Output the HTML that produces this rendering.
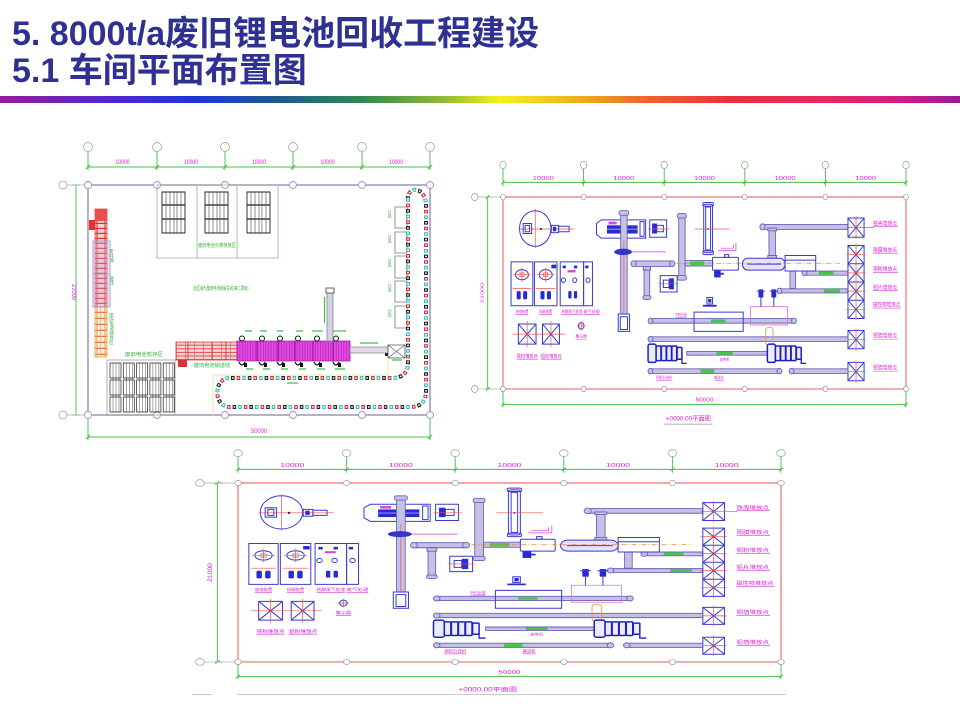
<!DOCTYPE html>
<html><head><meta charset="utf-8">
<style>
html,body{margin:0;padding:0;background:#fff}
body{width:960px;height:720px;position:relative;overflow:hidden}
.t{position:absolute;left:12px;font-family:"Liberation Sans","Noto Sans CJK SC",sans-serif;font-weight:bold;font-size:34px;line-height:37px;color:#2e3192;white-space:nowrap}
.bar{position:absolute;left:0;top:96px;width:960px;height:7px;background:linear-gradient(90deg,#9a1aa0 0%,#5a24c8 10%,#1f35d8 20%,#1d5a90 29%,#2e8b4e 38%,#9cc030 47%,#f5f020 52%,#f0b020 60%,#ec6a28 67%,#e8303c 76%,#e42a60 86%,#d8207e 92%,#a0189a 100%)}
svg{position:absolute;left:0;top:0}
.d *{vector-effect:non-scaling-stroke}
.g{stroke:#40c040;stroke-width:.9;fill:none}
.m{fill:#e020e0;font-family:"Liberation Sans","Noto Sans CJK SC",sans-serif}
.gt{fill:#30b030;font-family:"Liberation Sans","Noto Sans CJK SC",sans-serif}
.cv{fill:#c6bfe8;stroke:#6a64b0;stroke-width:.9}
.b{fill:none;stroke:#3a3ad0;stroke-width:1}
.r{stroke:#f05050;stroke-width:.7;fill:none}
.w{fill:none;stroke:#f07070;stroke-width:1.2}
.ul{stroke:#d040d0;stroke-width:.6;fill:none}
.mc rect{fill:#ececff;stroke:#2020c0;stroke-width:1.5}
.mc path{fill:none;stroke:#2020c0;stroke-width:1.3}
</style></head><body>
<div class="t" style="top:16px">5. 8000t/a废旧锂电池回收工程建设</div>
<div class="t" style="top:53px">5.1 车间平面布置图</div>
<div class="bar"></div>

<svg width="960" height="720" viewBox="0 0 960 720" xmlns="http://www.w3.org/2000/svg">
<defs>
<pattern id="lad" x="95" y="209" width="12" height="5" patternUnits="userSpaceOnUse"><rect width="12" height="5" fill="#f6d0d0"/><rect y="3.8" width="12" height="1.2" fill="#d83030"/><rect x="1.5" width="1" height="5" fill="#d83030"/><rect x="9.5" width="1" height="5" fill="#d83030"/></pattern>
<pattern id="lad2" x="95" y="307" width="12" height="6" patternUnits="userSpaceOnUse"><rect width="12" height="6" fill="#fbeede"/><rect y="4.8" width="12" height="1" fill="#e05030"/><rect x="1.5" width="1" height="6" fill="#e0a040"/><rect x="9.5" width="1" height="6" fill="#e0a040"/><rect x="5.5" width=".6" height="6" fill="#e0a040"/></pattern>
<pattern id="hl" x="176" y="342" width="9" height="3.6" patternUnits="userSpaceOnUse"><rect width="9" height="3.6" fill="#f8d4d4"/><rect y="2.8" width="9" height=".8" fill="#d83030"/><rect width=".7" height="3.6" fill="#e06060"/></pattern>
<pattern id="st" x="237" y="341" width="2.6" height="4" patternUnits="userSpaceOnUse"><rect width="2.6" height="4" fill="#e24ae2"/><rect width=".6" height="4" fill="#b020b0"/></pattern>
</defs>

<!-- ================= LEFT DRAWING ================= -->
<g class="d">
<g fill="#fff" stroke="#999" stroke-width=".7">
<circle cx="88" cy="147" r="4.5"/><circle cx="157" cy="147" r="4.5"/><circle cx="225" cy="147" r="4.5"/><circle cx="293" cy="147" r="4.5"/><circle cx="362" cy="147" r="4.5"/><circle cx="430" cy="147" r="4.5"/>
<circle cx="63" cy="185" r="4"/><circle cx="63" cy="415" r="4"/>
</g>
<path class="g" d="M88,152V170M157,152V170M225,152V170M293,152V170M362,152V170M430,152V170 M88,167H430 M86,169L90,165M155,169L159,165M223,169L227,165M291,169L295,165M360,169L364,165M428,169L432,165 M76,185V415 M72,185H80 M72,415H80 M88,418V440 M430,418V440 M88,437H430 M86,439L90,435 M428,439L432,435"/>
<g class="m" font-size="6" text-anchor="middle">
<text x="122.5" y="164" textLength="14" lengthAdjust="spacingAndGlyphs">10000</text>
<text x="191" y="164" textLength="14" lengthAdjust="spacingAndGlyphs">10000</text>
<text x="259" y="164" textLength="14" lengthAdjust="spacingAndGlyphs">10000</text>
<text x="327.5" y="164" textLength="14" lengthAdjust="spacingAndGlyphs">10000</text>
<text x="396" y="164" textLength="14" lengthAdjust="spacingAndGlyphs">10000</text>
<text x="259" y="433" textLength="16" lengthAdjust="spacingAndGlyphs">50000</text>
<text transform="translate(72,292) rotate(90)" textLength="16" lengthAdjust="spacingAndGlyphs">21000</text>
</g>
<path d="M67,185H88 M67,415H88" stroke="#aaa" stroke-width=".7"/>
<rect x="88" y="185" width="342" height="230" fill="none" stroke="#9c96bc" stroke-width="1.5"/>
<g fill="#fff" stroke="#b888cc" stroke-width=".9">
<circle cx="88" cy="185" r="3.5"/><circle cx="157" cy="185" r="3.5"/><circle cx="225" cy="185" r="3.5"/><circle cx="293" cy="185" r="3.5"/><circle cx="362" cy="185" r="3.5"/><circle cx="430" cy="185" r="3.5"/>
<circle cx="88" cy="415" r="3.5"/><circle cx="157" cy="415" r="3.5"/><circle cx="225" cy="415" r="3.5"/><circle cx="293" cy="415" r="3.5"/><circle cx="362" cy="415" r="3.5"/><circle cx="430" cy="415" r="3.5"/>
</g>

<!-- top storage -->
<rect x="157" y="185" width="121" height="73" fill="none" stroke="#90b890" stroke-width=".8"/>
<path d="M197,185V258M237,185V258" stroke="#90b890" stroke-width=".8"/>
<g fill="none" stroke="#222">
<rect x="162" y="192" width="23" height="41" stroke-width=".9"/>
<path d="M166,192V233M170,192V233M174,192V233M177,192V233M181,192V233" stroke-width=".5"/>
<path d="M162,205H185M162,219H185" stroke-width="1.3"/>
<rect x="205" y="192" width="23" height="41" stroke-width=".9"/>
<path d="M209,192V233M213,192V233M217,192V233M220,192V233M224,192V233" stroke-width=".5"/>
<path d="M205,205H228M205,219H228" stroke-width="1.3"/>
<rect x="247" y="192" width="23" height="41" stroke-width=".9"/>
<path d="M251,192V233M255,192V233M259,192V233M262,192V233M266,192V233" stroke-width=".5"/>
<path d="M247,205H270M247,219H270" stroke-width="1.3"/>
</g>
<g class="gt" font-size="5" text-anchor="middle">
<text x="217" y="247" textLength="38" lengthAdjust="spacingAndGlyphs">废旧电池分类存放区</text>
<text x="221" y="290" textLength="55" lengthAdjust="spacingAndGlyphs">此区域为废旧电池拆解车间(第二层级)</text>
<text x="144" y="356" textLength="38" lengthAdjust="spacingAndGlyphs">废旧电池暂存区</text>
<text x="212" y="367" textLength="36" lengthAdjust="spacingAndGlyphs">废旧电池输送线</text>
</g>
<g class="gt" font-size="4.5">
<text x="112" y="249" writing-mode="tb">废料输</text>
<text x="112" y="276" writing-mode="tb">送线</text>
<text x="112" y="313" writing-mode="tb">废旧电池储存区</text>
</g>

<!-- left conveyor -->
<rect x="95" y="209" width="12" height="98" fill="url(#lad)" stroke="#e04040" stroke-width=".8"/>
<rect x="95" y="209" width="12" height="12" fill="#e85050"/>
<rect x="89" y="220" width="6" height="10" fill="#e03030"/>
<rect x="95" y="307" width="12" height="50" fill="url(#lad2)" stroke="#e0a040" stroke-width=".8"/>
<rect x="93" y="241" width="17" height="66" fill="#c8b8e0" fill-opacity=".35" stroke="#a090c8" stroke-width=".8"/>
<path d="M93,274H110" stroke="#a090c8" stroke-width=".6"/>

<!-- bottom-left storage -->
<rect x="107" y="360" width="68" height="55" fill="none" stroke="#999" stroke-width=".8"/>
<g fill="none" stroke="#222" stroke-width=".7">
<rect x="110" y="363" width="11" height="15"/><rect x="123.3" y="363" width="11" height="15"/><rect x="136.6" y="363" width="11" height="15"/><rect x="149.9" y="363" width="11" height="15"/><rect x="163.2" y="363" width="11" height="15"/>
<rect x="110" y="380" width="11" height="15"/><rect x="123.3" y="380" width="11" height="15"/><rect x="136.6" y="380" width="11" height="15"/><rect x="149.9" y="380" width="11" height="15"/><rect x="163.2" y="380" width="11" height="15"/>
<rect x="110" y="397" width="11" height="15"/><rect x="123.3" y="397" width="11" height="15"/><rect x="136.6" y="397" width="11" height="15"/><rect x="149.9" y="397" width="11" height="15"/><rect x="163.2" y="397" width="11" height="15"/>
<path d="M113,363V412M116,363V412M119,363V412M126.3,363V412M129.3,363V412M132.3,363V412M139.6,363V412M142.6,363V412M145.6,363V412M152.9,363V412M155.9,363V412M158.9,363V412M166.2,363V412M169.2,363V412M172.2,363V412" stroke-width=".4"/>
</g>

<!-- process line -->
<rect x="176" y="342" width="61" height="18" fill="url(#hl)" stroke="#d83030" stroke-width=".8"/>
<path d="M188,342V360M212,342V360M226,342V360" stroke="#c02020" stroke-width=".7"/>
<rect x="178" y="360" width="9" height="7" fill="#e03030"/>
<rect x="237" y="341" width="113" height="20" fill="url(#st)" stroke="#a020a0" stroke-width=".8"/>
<path d="M257,341V361M278,341V361M295,341V361M313,341V361M333,341V361" stroke="#801080" stroke-width=".9"/>
<g fill="none" stroke="#111" stroke-width="1">
<circle cx="242" cy="338.5" r="2.5"/><circle cx="262" cy="338.5" r="2.5"/><circle cx="280" cy="338.5" r="2.5"/><circle cx="298" cy="338.5" r="2.5"/><circle cx="317" cy="338.5" r="2.5"/><circle cx="336" cy="338.5" r="2.5"/>
<path d="M239,362q3,6 6,0M259,362q3,6 6,0M277,362q3,6 6,0M295,362q3,6 6,0M314,362q3,6 6,0M333,362q3,6 6,0" stroke-width="1.3"/>
</g>
<g fill="#111"><rect x="244" y="363" width="3" height="4"/><rect x="264" y="363" width="3" height="4"/><rect x="282" y="363" width="3" height="4"/><rect x="300" y="363" width="3" height="4"/><rect x="319" y="363" width="3" height="4"/><rect x="338" y="363" width="3" height="4"/></g>
<path d="M245,331H252M260,331H267M277,331H283M296,331H303M312,331H323M333,331H346 M246,369H253M263,369H270M281,369H288M299,369H306M317,369H325M335,369H345 M287,383H298 M360,343H378 M392,360H402" stroke="#40c040" stroke-width="1.3"/>
<rect x="327" y="291" width="6" height="50" fill="#d8d0e8" stroke="#888" stroke-width=".8"/>
<rect x="326" y="288" width="8" height="5" fill="#fff" stroke="#333" stroke-width=".8"/>
<path d="M324.5,297V323" stroke="#40c040" stroke-width="1.2"/>
<rect x="350" y="347" width="38" height="6" fill="#e0d8ec" stroke="#888" stroke-width=".8"/>
<rect x="385" y="353" width="3" height="3" fill="#222"/>
<rect x="388" y="345" width="17" height="13" fill="#fff" stroke="#555" stroke-width=".8"/>
<path d="M388,345L405,358M405,345L388,358" stroke="#555" stroke-width=".6"/>
<path d="M213,417V375H388V358" fill="none" stroke="#e8e090" stroke-width=".8"/>

<!-- right boxes -->
<g fill="#fff" stroke="#777" stroke-width=".8">
<rect x="395" y="207" width="12" height="21"/><rect x="395" y="232" width="12" height="21"/><rect x="395" y="256" width="12" height="22"/><rect x="395" y="281" width="12" height="21"/><rect x="395" y="306" width="12" height="22"/>
</g>
<g class="gt" font-size="4"><text x="390" y="210" writing-mode="tb">分选</text><text x="390" y="235" writing-mode="tb">分选</text><text x="390" y="259" writing-mode="tb">分选</text><text x="390" y="284" writing-mode="tb">分选</text><text x="390" y="309" writing-mode="tb">分选</text></g>

<!-- chain loop -->
<g fill="none" stroke-width="4">
<path d="M408,198V362Q408,378 392,378H230C213,378 213,407 230,407H410Q426,407 426,391V206C426,186 408,186 408,198Z" stroke="#3cc0c0" stroke-dasharray="3.6 13.2"/>
<path d="M408,198V362Q408,378 392,378H230C213,378 213,407 230,407H410Q426,407 426,391V206C426,186 408,186 408,198Z" stroke="#d83040" stroke-dasharray="3.6 13.2" stroke-dashoffset="-5.6"/>
<path d="M408,198V362Q408,378 392,378H230C213,378 213,407 230,407H410Q426,407 426,391V206C426,186 408,186 408,198Z" stroke="#222" stroke-dasharray="3.6 13.2" stroke-dashoffset="-11.2"/>
<path d="M408,198V362Q408,378 392,378H230C213,378 213,407 230,407H410Q426,407 426,391V206C426,186 408,186 408,198Z" stroke="#fff" stroke-width="1.6" stroke-dasharray="1.6 4" stroke-dashoffset="-1"/>
</g>
</g>

<!-- ================= RIGHT-TOP DRAWING ================= -->
<g class="d" transform="translate(503,197) scale(0.806,0.914)">
<g fill="#fff" stroke="#999" stroke-width=".7">
<circle cx="0" cy="-35" r="4"/><circle cx="100" cy="-35" r="4"/><circle cx="200" cy="-35" r="4"/><circle cx="300" cy="-35" r="4"/><circle cx="400" cy="-35" r="4"/><circle cx="500" cy="-35" r="4"/>
<circle cx="-35" cy="0" r="4"/><circle cx="-35" cy="210" r="4"/>
</g>
<path class="g" d="M0,-31V-12M100,-31V-12M200,-31V-12M300,-31V-12M400,-31V-12M500,-31V-12 M0,-16H500 M-2,-14L2,-18M98,-14L102,-18M198,-14L202,-18M298,-14L302,-18M398,-14L402,-18M498,-14L502,-18 M-19,0V210 M-22,0H-14 M-22,210H-14 M-21,2L-17,-2 M-21,212L-17,208 M0,212V230 M500,212V230 M0,227H500 M-2,229L2,225 M498,229L502,225"/>
<g class="m" font-size="6" text-anchor="middle">
<text x="50" y="-18.5" textLength="26" lengthAdjust="spacingAndGlyphs">10000</text>
<text x="150" y="-18.5" textLength="26" lengthAdjust="spacingAndGlyphs">10000</text>
<text x="250" y="-18.5" textLength="26" lengthAdjust="spacingAndGlyphs">10000</text>
<text x="350" y="-18.5" textLength="26" lengthAdjust="spacingAndGlyphs">10000</text>
<text x="450" y="-18.5" textLength="26" lengthAdjust="spacingAndGlyphs">10000</text>
<text x="250" y="224" textLength="22" lengthAdjust="spacingAndGlyphs">50000</text>
<text transform="translate(-24,105) rotate(-90)" textLength="22" lengthAdjust="spacingAndGlyphs">21000</text>
<text x="230" y="244.5" font-size="7" textLength="56" lengthAdjust="spacingAndGlyphs">+0000.00平面图</text>
</g>
<path d="M200,248.5H260" stroke="#999" stroke-width=".8"/>
<path d="M-31,0H0 M-31,210H0" stroke="#aaa" stroke-width=".7"/>
<rect class="w" x="0" y="0" width="500" height="210"/>
<g fill="#fff" stroke="#888" stroke-width=".6">
<circle cx="0" cy="0" r="3"/><circle cx="100" cy="0" r="3"/><circle cx="200" cy="0" r="3"/><circle cx="300" cy="0" r="3"/><circle cx="400" cy="0" r="3"/><circle cx="500" cy="0" r="3"/>
<circle cx="0" cy="210" r="3"/><circle cx="100" cy="210" r="3"/><circle cx="200" cy="210" r="3"/><circle cx="300" cy="210" r="3"/><circle cx="400" cy="210" r="3"/><circle cx="500" cy="210" r="3"/>
</g>
<!-- rotary -->
<circle cx="40" cy="34.5" r="19.5" class="b"/>
<path d="M40,13V56 M19,35H88" class="r"/>
<rect x="25" y="29" width="10.5" height="11" class="b"/><rect x="27.5" y="31" width="5.5" height="7" class="b"/>
<circle cx="47" cy="35" r="1.2" fill="#222"/>
<rect x="60" y="31" width="9" height="8" class="b"/><rect x="62" y="32.5" width="4" height="5" fill="#2a2ad0"/><rect x="69" y="32" width="13" height="6" class="b"/>
<!-- crusher -->
<path d="M116,29L122,25H177V45H122L116,41Z" class="b" style="fill:#fff"/>
<rect x="129" y="31" width="38" height="9" fill="#2a2ad0"/><rect x="129" y="34.5" width="38" height="1.6" fill="#7a7aff"/>
<rect x="131" y="27" width="10" height="3" fill="#e040e0"/><rect x="170" y="27" width="5" height="16" class="b"/>
<!-- vertical conveyor -->
<rect x="146" y="19" width="8" height="112" class="cv"/>
<rect x="144" y="15" width="12" height="5" rx="2" class="cv"/>
<rect x="143" y="128" width="14" height="19" class="b" style="fill:#fff"/><rect x="145.5" y="131" width="9" height="14" class="b"/>
<line x1="150" y1="48" x2="150" y2="128" class="r"/>
<ellipse cx="149" cy="60" rx="11" ry="3.5" fill="#3434c8"/>
<line x1="160" y1="60" x2="202" y2="60" stroke="#d040d0" stroke-width=".8"/>
<!-- small box -->
<rect x="182" y="25" width="21" height="19" class="b"/><rect x="185" y="29" width="6" height="11" fill="#2a2ad0"/><rect x="191" y="31" width="8" height="7" class="b"/>
<line x1="180" y1="35" x2="206" y2="35" class="r"/>
<!-- T conveyor -->
<rect x="161" y="70" width="50" height="6" class="cv"/><circle cx="162" cy="73" r="3.2" class="cv"/><circle cx="210" cy="73" r="3.2" class="cv"/>
<rect x="175" y="76" width="7" height="35" class="cv"/><rect x="173.5" y="108" width="10" height="4" rx="2" class="cv"/><rect x="174" y="76" width="9" height="4" class="cv"/>
<rect x="195" y="86" width="21" height="18" class="b"/><rect x="206" y="89" width="6" height="12" fill="#2a2ad0"/><rect x="199" y="91" width="7" height="8" class="b"/>
<line x1="193" y1="95" x2="218" y2="95" class="r"/>
<rect x="218" y="21" width="8" height="67" class="cv"/><rect x="216.5" y="18" width="11" height="5" rx="2" class="cv"/><rect x="216.5" y="86" width="11" height="5" rx="2" class="cv"/>
<!-- frame -->
<rect x="249" y="8" width="11" height="53" rx="2" class="b"/><rect x="251.5" y="11" width="6" height="47" class="b"/>
<rect x="248" y="6" width="13" height="4" rx="1.5" class="b"/><rect x="248" y="59" width="13" height="4" rx="1.5" class="b"/>
<path d="M238,35H281" class="r"/><circle cx="254.5" cy="35" r="1" fill="#2a2ad0"/>
<path d="M267,58.5H289V50 M270,56H286V52" stroke="#d040d0" stroke-width=".7" fill="none"/>
<!-- conveyors right -->
<rect x="321" y="30" width="107" height="5.5" class="cv"/><circle cx="322" cy="32.7" r="3.3" class="cv"/>
<rect x="330" y="35.5" width="8" height="31" class="cv"/><rect x="328.5" y="34" width="11" height="3" class="cv"/><rect x="328.5" y="64" width="11" height="3" class="cv"/>
<rect x="374" y="81" width="54" height="4.5" class="cv"/><rect x="392" y="81.5" width="18" height="3.5" fill="#44c844"/><circle cx="374" cy="83.2" r="3" class="cv"/>
<rect x="356" y="81" width="7" height="19" class="cv"/>
<rect x="343" y="100.5" width="85" height="4.5" class="cv"/><rect x="398" y="101" width="20" height="3.5" fill="#44c844"/><circle cx="343" cy="102.7" r="3" class="cv"/>
<rect x="226" y="69.5" width="36" height="6" class="cv"/><rect x="232" y="70.5" width="18" height="4" fill="#44c844"/>
<rect x="260" y="66" width="32" height="14" rx="1" class="b" style="fill:#fff"/><rect x="275" y="63" width="5" height="3" class="b"/>
<rect x="262" y="80" width="8" height="8" fill="#2a2ad0"/><rect x="262" y="83" width="12" height="2" fill="#2a2ad0"/>
<rect x="297" y="67" width="53" height="13" rx="6.5" class="b" style="fill:#e6e2f7"/><line x1="303" y1="73.5" x2="345" y2="73.5" class="b"/>
<rect x="350" y="64" width="38" height="17" class="b" style="fill:#fff"/><line x1="350" y1="69" x2="388" y2="69" class="b"/>
<line x1="215" y1="72.5" x2="418" y2="72.5" stroke="#f08030" stroke-width=".7" stroke-dasharray="5 2 1 2"/>
<!-- X boxes -->
<rect x="428" y="23" width="20" height="21" class="b"/><path d="M428,23L448,44M448,23L428,44" class="b"/>
<path d="M438,21V46M426,33.5H460" class="r"/><circle cx="438" cy="33.5" r="1.3" fill="#e04040"/>
<rect x="428" y="53" width="20" height="80" class="b"/>
<path d="M428,73H448M428,93H448M428,113H448M428,53L448,73M448,53L428,73M428,73L448,93M448,73L428,93M428,93L448,113M448,93L428,113M428,113L448,133M448,113L428,133" class="b"/>
<path d="M438,51V135M426,63H450M426,83H450M426,103H450M426,123H450" class="r"/>
<g fill="#e04040"><circle cx="438" cy="63" r="1.3"/><circle cx="438" cy="83" r="1.3"/><circle cx="438" cy="103" r="1.3"/><circle cx="438" cy="123" r="1.3"/><circle cx="438" cy="156" r="1.3"/><circle cx="438" cy="191" r="1.3"/></g>
<rect x="428" y="146" width="20" height="20" class="b"/><path d="M428,146L448,166M448,146L428,166" class="b"/><path d="M438,144V168M426,156H450" class="r"/>
<rect x="428" y="181" width="20" height="20" class="b"/><path d="M428,181L448,201M448,181L428,201" class="b"/><path d="M438,179V203M426,191H450" class="r"/>
<g class="m" font-size="6">
<text x="459" y="31" textLength="30" lengthAdjust="spacingAndGlyphs">铁壳堆放点</text>
<text x="459" y="60" textLength="30" lengthAdjust="spacingAndGlyphs">隔膜堆放点</text>
<text x="459" y="81" textLength="30" lengthAdjust="spacingAndGlyphs">铜粉堆放点</text>
<text x="459" y="101" textLength="30" lengthAdjust="spacingAndGlyphs">铝片堆放点</text>
<text x="459" y="120" textLength="34" lengthAdjust="spacingAndGlyphs">磁性物堆放点</text>
<text x="459" y="154" textLength="30" lengthAdjust="spacingAndGlyphs">铜箔堆放点</text>
<text x="459" y="189" textLength="30" lengthAdjust="spacingAndGlyphs">铝箔堆放点</text>
</g>
<path class="ul" d="M459,32.5H490M459,61.5H490M459,82.5H490M459,102.5H490M459,121.5H494M459,155.5H490M459,190.5H490"/>
<!-- left panel -->
<rect x="10" y="71" width="27" height="48" class="b"/><rect x="39" y="71" width="28" height="48" class="b"/><rect x="71" y="71" width="29" height="48" class="b"/><rect x="100" y="71" width="11" height="48" class="b"/>
<ellipse cx="23.5" cy="85" rx="8" ry="5.5" class="b"/><ellipse cx="53" cy="85" rx="8" ry="5.5" class="b"/>
<path d="M13,85H34M23.5,77V93M42.5,85H63.5M53,77V93M12,100H35M41,100H65" class="r"/>
<rect x="21" y="83" width="5" height="4" class="r"/><rect x="50.5" y="83" width="5" height="4" class="r"/>
<g fill="#2a2ad0">
<rect x="17" y="103" width="5" height="9" rx="1.5"/><rect x="25" y="103" width="5" height="9" rx="1.5"/>
<rect x="46.5" y="103" width="5" height="9" rx="1.5"/><rect x="54.5" y="103" width="5" height="9" rx="1.5"/>
<rect x="60" y="74" width="6" height="4"/>
<rect x="74" y="75" width="4" height="3"/><rect x="88" y="75" width="4" height="3"/><rect x="102" y="75" width="4" height="3"/>
<rect x="81" y="103" width="4" height="8" rx="1"/><rect x="88" y="103" width="4" height="8" rx="1"/>
</g>
<g class="b"><circle cx="75" cy="91" r="2.5"/><circle cx="89" cy="91" r="2.5"/><circle cx="105.5" cy="91" r="2.5"/></g>
<rect x="80" y="80" width="10" height="2.5" fill="#e040e0"/>
<g class="m" font-size="4.5" text-anchor="middle">
<text x="23.5" y="127" textLength="16" lengthAdjust="spacingAndGlyphs">放电装置</text>
<text x="53" y="127" textLength="16" lengthAdjust="spacingAndGlyphs">拆解装置</text>
<text x="85.5" y="127" textLength="26" lengthAdjust="spacingAndGlyphs">热解尾气处理</text>
<text x="110" y="127" textLength="20" lengthAdjust="spacingAndGlyphs">尾气处理</text>
<text x="30" y="176" font-size="5.5" textLength="26" lengthAdjust="spacingAndGlyphs">铁粉堆放点</text>
<text x="60" y="176" font-size="5.5" textLength="26" lengthAdjust="spacingAndGlyphs">铝粉堆放点</text>
<text x="97" y="154" textLength="14" lengthAdjust="spacingAndGlyphs">集尘器</text>
<text x="221" y="130" textLength="14" lengthAdjust="spacingAndGlyphs">PE分选</text>
<text x="275" y="179" font-size="4" textLength="12" lengthAdjust="spacingAndGlyphs">皮带机</text>
<text x="200" y="199" textLength="20" lengthAdjust="spacingAndGlyphs">铜铝分选机</text>
<text x="268" y="199" textLength="12" lengthAdjust="spacingAndGlyphs">输送机</text>
</g>
<path class="ul" d="M15.5,128.5H31.5M45,128.5H61M72.5,128.5H98.5M100,128.5H120M17,177.5H43M47,177.5H73M90,155.5H104M214,131.5H228M190,200.5H210M262,200.5H274"/>
<rect x="19" y="139" width="22" height="22" class="b"/><path d="M19,139L41,161M41,139L19,161" class="b"/>
<rect x="49" y="139" width="21" height="22" class="b"/><path d="M49,139L70,161M70,139L49,161" class="b"/>
<path d="M12,150H77M30,136V164M59.5,136V164" class="r"/>
<circle cx="97" cy="141" r="3.5" class="b"/><path d="M92,141H102M97,136V146" class="r"/>
<!-- lower lines -->
<rect x="182" y="133" width="180" height="5" class="cv"/><circle cx="183" cy="135.5" r="3" class="cv"/><circle cx="361" cy="135.5" r="3" class="cv"/>
<rect x="237" y="126" width="61" height="21" class="b"/><rect x="258" y="134" width="18" height="3" fill="#44c844"/>
<rect x="307" y="120" width="46" height="20" fill="none" stroke="#e070c0" stroke-width=".8"/>
<rect x="253" y="110" width="7" height="7" class="b"/><rect x="254.5" y="111.5" width="4" height="4" fill="#2a2ad0"/><rect x="248" y="118" width="17" height="2" fill="#2a2ad0"/>
<rect x="317" y="101" width="6" height="9" rx="1" fill="#2a2ad0"/><rect x="333" y="101" width="6" height="9" rx="1" fill="#2a2ad0"/>
<path d="M315,103H325M331,103H341M320,110V120M336,110V120" class="b"/>
<rect x="182" y="153" width="246" height="5" class="cv"/><circle cx="183" cy="155.5" r="3" class="cv"/>
<rect x="326" y="143" width="9" height="19" rx="2.5" fill="none" stroke="#f09050" stroke-width=".9"/>
<rect x="228" y="169" width="100" height="4" class="cv"/><rect x="265" y="169.5" width="20" height="3" fill="#44c844"/>
<g class="mc">
<rect x="180" y="161" width="10" height="20" rx="2"/><rect x="190" y="163" width="6" height="16" rx="1"/><rect x="196.5" y="163" width="6" height="16" rx="1"/><rect x="203" y="163" width="6" height="16" rx="1"/><rect x="209.5" y="163" width="6" height="16" rx="1"/><rect x="216" y="164.5" width="6" height="13" rx="1"/><path d="M222,176V182H228"/>
<rect x="328" y="161" width="10" height="20" rx="2"/><rect x="338" y="163" width="6" height="16" rx="1"/><rect x="344.5" y="163" width="6" height="16" rx="1"/><rect x="351" y="163" width="6" height="16" rx="1"/><rect x="357.5" y="163" width="6" height="16" rx="1"/><rect x="364" y="164.5" width="6" height="13" rx="1"/><path d="M370,176V182H376"/>
</g>
<rect x="182" y="188" width="162" height="5" class="cv"/><circle cx="183" cy="190.5" r="3" class="cv"/><circle cx="343" cy="190.5" r="3" class="cv"/>
<rect x="245" y="188.5" width="17" height="4" fill="#44c844"/>
<rect x="357" y="188" width="71" height="5" class="cv"/><circle cx="358" cy="190.5" r="3" class="cv"/>
</g>

<!-- ================= BOTTOM DRAWING ================= -->
<g class="d" transform="translate(238,483) scale(1.086,0.852)">
<g fill="#fff" stroke="#999" stroke-width=".7">
<circle cx="0" cy="-35" r="4"/><circle cx="100" cy="-35" r="4"/><circle cx="200" cy="-35" r="4"/><circle cx="300" cy="-35" r="4"/><circle cx="400" cy="-35" r="4"/><circle cx="500" cy="-35" r="4"/>
<circle cx="-35" cy="0" r="4"/><circle cx="-35" cy="210" r="4"/>
</g>
<path class="g" d="M0,-31V-12M100,-31V-12M200,-31V-12M300,-31V-12M400,-31V-12M500,-31V-12 M0,-16H500 M-2,-14L2,-18M98,-14L102,-18M198,-14L202,-18M298,-14L302,-18M398,-14L402,-18M498,-14L502,-18 M-19,0V210 M-22,0H-14 M-22,210H-14 M-21,2L-17,-2 M-21,212L-17,208 M0,212V230 M500,212V230 M0,227H500 M-2,229L2,225 M498,229L502,225"/>
<g class="m" font-size="6" text-anchor="middle">
<text x="50" y="-18.5" textLength="22" lengthAdjust="spacingAndGlyphs">10000</text>
<text x="150" y="-18.5" textLength="22" lengthAdjust="spacingAndGlyphs">10000</text>
<text x="250" y="-18.5" textLength="22" lengthAdjust="spacingAndGlyphs">10000</text>
<text x="350" y="-18.5" textLength="22" lengthAdjust="spacingAndGlyphs">10000</text>
<text x="450" y="-18.5" textLength="22" lengthAdjust="spacingAndGlyphs">10000</text>
<text x="250" y="224" textLength="20" lengthAdjust="spacingAndGlyphs">50000</text>
<text transform="translate(-24,105) rotate(-90)" textLength="22" lengthAdjust="spacingAndGlyphs">21000</text>
<text x="230" y="244.5" font-size="7" textLength="54" lengthAdjust="spacingAndGlyphs">+0000.00平面图</text>
</g>
<path d="M-31,0H0 M-31,210H0" stroke="#aaa" stroke-width=".7"/>
<rect class="w" x="0" y="0" width="500" height="210"/>
<g fill="#fff" stroke="#888" stroke-width=".6">
<circle cx="0" cy="0" r="3"/><circle cx="100" cy="0" r="3"/><circle cx="200" cy="0" r="3"/><circle cx="300" cy="0" r="3"/><circle cx="400" cy="0" r="3"/><circle cx="500" cy="0" r="3"/>
<circle cx="0" cy="210" r="3"/><circle cx="100" cy="210" r="3"/><circle cx="200" cy="210" r="3"/><circle cx="300" cy="210" r="3"/><circle cx="400" cy="210" r="3"/><circle cx="500" cy="210" r="3"/>
</g>
<circle cx="40" cy="34.5" r="19.5" class="b"/>
<path d="M40,13V56 M19,35H88" class="r"/>
<rect x="25" y="29" width="10.5" height="11" class="b"/><rect x="27.5" y="31" width="5.5" height="7" class="b"/>
<circle cx="47" cy="35" r="1.2" fill="#222"/>
<rect x="60" y="31" width="9" height="8" class="b"/><rect x="62" y="32.5" width="4" height="5" fill="#2a2ad0"/><rect x="69" y="32" width="13" height="6" class="b"/>
<path d="M116,29L122,25H177V45H122L116,41Z" class="b" style="fill:#fff"/>
<rect x="129" y="31" width="38" height="9" fill="#2a2ad0"/><rect x="129" y="34.5" width="38" height="1.6" fill="#7a7aff"/>
<rect x="131" y="27" width="10" height="3" fill="#e040e0"/><rect x="170" y="27" width="5" height="16" class="b"/>
<rect x="146" y="19" width="8" height="112" class="cv"/>
<rect x="144" y="15" width="12" height="5" rx="2" class="cv"/>
<rect x="143" y="128" width="14" height="19" class="b" style="fill:#fff"/><rect x="145.5" y="131" width="9" height="14" class="b"/>
<line x1="150" y1="48" x2="150" y2="128" class="r"/>
<ellipse cx="149" cy="60" rx="11" ry="3.5" fill="#3434c8"/>
<line x1="160" y1="60" x2="202" y2="60" stroke="#d040d0" stroke-width=".8"/>
<rect x="182" y="25" width="21" height="19" class="b"/><rect x="185" y="29" width="6" height="11" fill="#2a2ad0"/><rect x="191" y="31" width="8" height="7" class="b"/>
<line x1="180" y1="35" x2="206" y2="35" class="r"/>
<rect x="161" y="70" width="50" height="6" class="cv"/><circle cx="162" cy="73" r="3.2" class="cv"/><circle cx="210" cy="73" r="3.2" class="cv"/>
<rect x="175" y="76" width="7" height="35" class="cv"/><rect x="173.5" y="108" width="10" height="4" rx="2" class="cv"/><rect x="174" y="76" width="9" height="4" class="cv"/>
<rect x="195" y="86" width="21" height="18" class="b"/><rect x="206" y="89" width="6" height="12" fill="#2a2ad0"/><rect x="199" y="91" width="7" height="8" class="b"/>
<line x1="193" y1="95" x2="218" y2="95" class="r"/>
<rect x="218" y="21" width="8" height="67" class="cv"/><rect x="216.5" y="18" width="11" height="5" rx="2" class="cv"/><rect x="216.5" y="86" width="11" height="5" rx="2" class="cv"/>
<rect x="249" y="8" width="11" height="53" rx="2" class="b"/><rect x="251.5" y="11" width="6" height="47" class="b"/>
<rect x="248" y="6" width="13" height="4" rx="1.5" class="b"/><rect x="248" y="59" width="13" height="4" rx="1.5" class="b"/>
<path d="M238,35H281" class="r"/><circle cx="254.5" cy="35" r="1" fill="#2a2ad0"/>
<path d="M267,58.5H289V50 M270,56H286V52" stroke="#d040d0" stroke-width=".7" fill="none"/>
<rect x="321" y="30" width="107" height="5.5" class="cv"/><circle cx="322" cy="32.7" r="3.3" class="cv"/>
<rect x="330" y="35.5" width="8" height="31" class="cv"/><rect x="328.5" y="34" width="11" height="3" class="cv"/><rect x="328.5" y="64" width="11" height="3" class="cv"/>
<rect x="374" y="81" width="54" height="4.5" class="cv"/><rect x="392" y="81.5" width="18" height="3.5" fill="#44c844"/><circle cx="374" cy="83.2" r="3" class="cv"/>
<rect x="356" y="81" width="7" height="19" class="cv"/>
<rect x="343" y="100.5" width="85" height="4.5" class="cv"/><rect x="398" y="101" width="20" height="3.5" fill="#44c844"/><circle cx="343" cy="102.7" r="3" class="cv"/>
<rect x="226" y="69.5" width="36" height="6" class="cv"/><rect x="232" y="70.5" width="18" height="4" fill="#44c844"/>
<rect x="260" y="66" width="32" height="14" rx="1" class="b" style="fill:#fff"/><rect x="275" y="63" width="5" height="3" class="b"/>
<rect x="262" y="80" width="8" height="8" fill="#2a2ad0"/><rect x="262" y="83" width="12" height="2" fill="#2a2ad0"/>
<rect x="297" y="67" width="53" height="13" rx="6.5" class="b" style="fill:#e6e2f7"/><line x1="303" y1="73.5" x2="345" y2="73.5" class="b"/>
<rect x="350" y="64" width="38" height="17" class="b" style="fill:#fff"/><line x1="350" y1="69" x2="388" y2="69" class="b"/>
<line x1="215" y1="72.5" x2="418" y2="72.5" stroke="#f08030" stroke-width=".7" stroke-dasharray="5 2 1 2"/>
<rect x="428" y="23" width="20" height="21" class="b"/><path d="M428,23L448,44M448,23L428,44" class="b"/>
<path d="M438,21V46M426,33.5H460" class="r"/><circle cx="438" cy="33.5" r="1.3" fill="#e04040"/>
<rect x="428" y="53" width="20" height="80" class="b"/>
<path d="M428,73H448M428,93H448M428,113H448M428,53L448,73M448,53L428,73M428,73L448,93M448,73L428,93M428,93L448,113M448,93L428,113M428,113L448,133M448,113L428,133" class="b"/>
<path d="M438,51V135M426,63H450M426,83H450M426,103H450M426,123H450" class="r"/>
<g fill="#e04040"><circle cx="438" cy="63" r="1.3"/><circle cx="438" cy="83" r="1.3"/><circle cx="438" cy="103" r="1.3"/><circle cx="438" cy="123" r="1.3"/><circle cx="438" cy="156" r="1.3"/><circle cx="438" cy="191" r="1.3"/></g>
<rect x="428" y="146" width="20" height="20" class="b"/><path d="M428,146L448,166M448,146L428,166" class="b"/><path d="M438,144V168M426,156H450" class="r"/>
<rect x="428" y="181" width="20" height="20" class="b"/><path d="M428,181L448,201M448,181L428,201" class="b"/><path d="M438,179V203M426,191H450" class="r"/>
<g class="m" font-size="6">
<text x="459" y="31" textLength="30" lengthAdjust="spacingAndGlyphs">铁壳堆放点</text>
<text x="459" y="60" textLength="30" lengthAdjust="spacingAndGlyphs">隔膜堆放点</text>
<text x="459" y="81" textLength="30" lengthAdjust="spacingAndGlyphs">铜粉堆放点</text>
<text x="459" y="101" textLength="30" lengthAdjust="spacingAndGlyphs">铝片堆放点</text>
<text x="459" y="120" textLength="34" lengthAdjust="spacingAndGlyphs">磁性物堆放点</text>
<text x="459" y="154" textLength="30" lengthAdjust="spacingAndGlyphs">铜箔堆放点</text>
<text x="459" y="189" textLength="30" lengthAdjust="spacingAndGlyphs">铝箔堆放点</text>
</g>
<path class="ul" d="M459,32.5H490M459,61.5H490M459,82.5H490M459,102.5H490M459,121.5H494M459,155.5H490M459,190.5H490"/>
<rect x="10" y="71" width="27" height="48" class="b"/><rect x="39" y="71" width="28" height="48" class="b"/><rect x="71" y="71" width="29" height="48" class="b"/><rect x="100" y="71" width="11" height="48" class="b"/>
<ellipse cx="23.5" cy="85" rx="8" ry="5.5" class="b"/><ellipse cx="53" cy="85" rx="8" ry="5.5" class="b"/>
<path d="M13,85H34M23.5,77V93M42.5,85H63.5M53,77V93M12,100H35M41,100H65" class="r"/>
<rect x="21" y="83" width="5" height="4" class="r"/><rect x="50.5" y="83" width="5" height="4" class="r"/>
<g fill="#2a2ad0">
<rect x="17" y="103" width="5" height="9" rx="1.5"/><rect x="25" y="103" width="5" height="9" rx="1.5"/>
<rect x="46.5" y="103" width="5" height="9" rx="1.5"/><rect x="54.5" y="103" width="5" height="9" rx="1.5"/>
<rect x="60" y="74" width="6" height="4"/>
<rect x="74" y="75" width="4" height="3"/><rect x="88" y="75" width="4" height="3"/><rect x="102" y="75" width="4" height="3"/>
<rect x="81" y="103" width="4" height="8" rx="1"/><rect x="88" y="103" width="4" height="8" rx="1"/>
</g>
<g class="b"><circle cx="75" cy="91" r="2.5"/><circle cx="89" cy="91" r="2.5"/><circle cx="105.5" cy="91" r="2.5"/></g>
<rect x="80" y="80" width="10" height="2.5" fill="#e040e0"/>
<g class="m" font-size="4.5" text-anchor="middle">
<text x="23.5" y="127" textLength="16" lengthAdjust="spacingAndGlyphs">放电装置</text>
<text x="53" y="127" textLength="16" lengthAdjust="spacingAndGlyphs">拆解装置</text>
<text x="85.5" y="127" textLength="26" lengthAdjust="spacingAndGlyphs">热解尾气处理</text>
<text x="110" y="127" textLength="20" lengthAdjust="spacingAndGlyphs">尾气处理</text>
<text x="30" y="176" font-size="5.5" textLength="26" lengthAdjust="spacingAndGlyphs">铁粉堆放点</text>
<text x="60" y="176" font-size="5.5" textLength="26" lengthAdjust="spacingAndGlyphs">铝粉堆放点</text>
<text x="97" y="154" textLength="14" lengthAdjust="spacingAndGlyphs">集尘器</text>
<text x="221" y="130" textLength="14" lengthAdjust="spacingAndGlyphs">PE分选</text>
<text x="275" y="179" font-size="4" textLength="12" lengthAdjust="spacingAndGlyphs">皮带机</text>
<text x="200" y="199" textLength="20" lengthAdjust="spacingAndGlyphs">铜铝分选机</text>
<text x="268" y="199" textLength="12" lengthAdjust="spacingAndGlyphs">输送机</text>
</g>
<path class="ul" d="M15.5,128.5H31.5M45,128.5H61M72.5,128.5H98.5M100,128.5H120M17,177.5H43M47,177.5H73M90,155.5H104M214,131.5H228M190,200.5H210M262,200.5H274"/>
<rect x="19" y="139" width="22" height="22" class="b"/><path d="M19,139L41,161M41,139L19,161" class="b"/>
<rect x="49" y="139" width="21" height="22" class="b"/><path d="M49,139L70,161M70,139L49,161" class="b"/>
<path d="M12,150H77M30,136V164M59.5,136V164" class="r"/>
<circle cx="97" cy="141" r="3.5" class="b"/><path d="M92,141H102M97,136V146" class="r"/>
<rect x="182" y="133" width="180" height="5" class="cv"/><circle cx="183" cy="135.5" r="3" class="cv"/><circle cx="361" cy="135.5" r="3" class="cv"/>
<rect x="237" y="126" width="61" height="21" class="b"/><rect x="258" y="134" width="18" height="3" fill="#44c844"/>
<rect x="307" y="120" width="46" height="20" fill="none" stroke="#e070c0" stroke-width=".8"/>
<rect x="253" y="110" width="7" height="7" class="b"/><rect x="254.5" y="111.5" width="4" height="4" fill="#2a2ad0"/><rect x="248" y="118" width="17" height="2" fill="#2a2ad0"/>
<rect x="317" y="101" width="6" height="9" rx="1" fill="#2a2ad0"/><rect x="333" y="101" width="6" height="9" rx="1" fill="#2a2ad0"/>
<path d="M315,103H325M331,103H341M320,110V120M336,110V120" class="b"/>
<rect x="182" y="153" width="246" height="5" class="cv"/><circle cx="183" cy="155.5" r="3" class="cv"/>
<rect x="326" y="143" width="9" height="19" rx="2.5" fill="none" stroke="#f09050" stroke-width=".9"/>
<rect x="228" y="169" width="100" height="4" class="cv"/><rect x="265" y="169.5" width="20" height="3" fill="#44c844"/>
<g class="mc">
<rect x="180" y="161" width="10" height="20" rx="2"/><rect x="190" y="163" width="6" height="16" rx="1"/><rect x="196.5" y="163" width="6" height="16" rx="1"/><rect x="203" y="163" width="6" height="16" rx="1"/><rect x="209.5" y="163" width="6" height="16" rx="1"/><rect x="216" y="164.5" width="6" height="13" rx="1"/><path d="M222,176V182H228"/>
<rect x="328" y="161" width="10" height="20" rx="2"/><rect x="338" y="163" width="6" height="16" rx="1"/><rect x="344.5" y="163" width="6" height="16" rx="1"/><rect x="351" y="163" width="6" height="16" rx="1"/><rect x="357.5" y="163" width="6" height="16" rx="1"/><rect x="364" y="164.5" width="6" height="13" rx="1"/><path d="M370,176V182H376"/>
</g>
<rect x="182" y="188" width="162" height="5" class="cv"/><circle cx="183" cy="190.5" r="3" class="cv"/><circle cx="343" cy="190.5" r="3" class="cv"/>
<rect x="245" y="188.5" width="17" height="4" fill="#44c844"/>
<rect x="357" y="188" width="71" height="5" class="cv"/><circle cx="358" cy="190.5" r="3" class="cv"/>
</g>
<path d="M192,694.5H212 M237,694.5H786" stroke="#bbb" stroke-width=".8"/>
</svg>
</body></html>
